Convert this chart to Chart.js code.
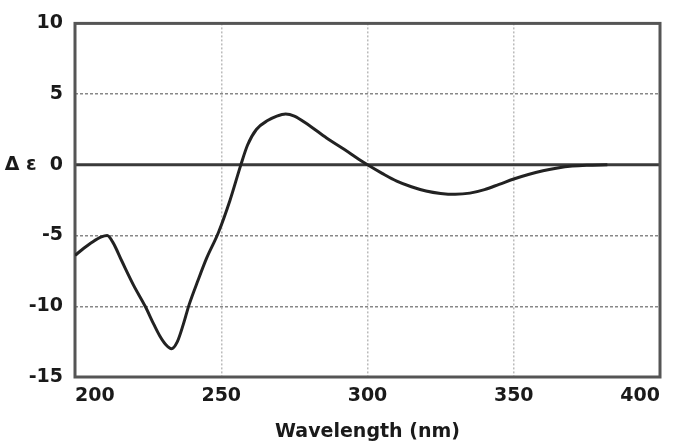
<!DOCTYPE html>
<html>
<head>
<meta charset="utf-8">
<script src="https://cdn.jsdelivr.net/npm/chart.js@4"></script>
<style>
  html, body { margin: 0; padding: 0; background: #fff; }
  #wrap { width: 677px; height: 447px; }
</style>
</head>
<body>
<div id="wrap"><canvas id="myChart" width="677" height="447"></canvas></div>
<script>
// wavelength (nm) and delta epsilon
const wavelength = [200, 203, 206, 209, 211, 213, 216, 220, 224, 227, 229, 231, 233, 235, 237, 239, 242, 245, 249, 253, 256.7, 259, 262, 266, 269, 272, 275, 280, 286, 292, 297, 300, 305, 310, 315, 320, 325, 330, 335, 340, 345, 350, 355, 360, 365, 370, 375, 382];
const deltaEps = [-6.4, -5.9, -5.45, -5.1, -5.0, -5.5, -6.8, -8.5, -10.0, -11.3, -12.1, -12.7, -13.0, -12.5, -11.3, -9.9, -8.2, -6.6, -4.8, -2.5, 0, 1.4, 2.5, 3.15, 3.45, 3.6, 3.45, 2.8, 1.9, 1.1, 0.4, 0, -0.6, -1.15, -1.55, -1.85, -2.02, -2.08, -2.0, -1.75, -1.38, -1.0, -0.68, -0.42, -0.22, -0.09, -0.03, 0];
const xTicks = [200, 250, 300, 350, 400];
const yTicks = [-15, -10, -5, 0, 5, 10];

const points = wavelength.map((w, i) => ({ x: w, y: deltaEps[i] }));

// frame + zero line
const framePlugin = {
    id: 'frame',
    beforeDatasetsDraw(chart) {
        const { ctx, chartArea: a, scales } = chart;
        const y0 = scales.y.getPixelForValue(0);
        ctx.save();
        ctx.strokeStyle = '#3a3a3a';
        ctx.lineWidth = 3;
        ctx.beginPath();
        ctx.moveTo(a.left, y0);
        ctx.lineTo(a.right, y0);
        ctx.stroke();
        ctx.strokeStyle = '#555';
        ctx.strokeRect(a.left, a.top, a.right - a.left, a.bottom - a.top);
        ctx.restore();
    }
};

const tickFont = { family: '"DejaVu Sans", sans-serif', size: 19, weight: 'bold' };

new Chart(document.getElementById('myChart'), {
    type: 'line',
    data: {
        datasets: [{
            data: points,
            borderColor: '#222',
            borderWidth: 3,
            pointRadius: 0,
            cubicInterpolationMode: 'monotone',
            fill: false
        }]
    },
    options: {
        responsive: false,
        animation: false,
        layout: { padding: { top: 10, right: 17, left: 0, bottom: 0 } },
        plugins: { legend: { display: false }, tooltip: { enabled: false } },
        scales: {
            x: {
                type: 'linear',
                min: 200,
                max: 400,
                afterBuildTicks: s => { s.ticks = xTicks.map(v => ({ value: v })); },
                afterFit: s => { s.height = 70; s.paddingLeft = 0; s.paddingRight = 0; },
                grid: {
                    color: c => (c.tick.value === 200 || c.tick.value === 400) ? 'rgba(0,0,0,0)' : '#bbb',
                    lineWidth: 1.5,
                    drawTicks: false
                },
                border: { display: false, dash: [2, 2] },
                ticks: { color: '#1a1a1a', font: tickFont, padding: 8, maxRotation: 0, align: 'inner' },
                title: {
                    display: true,
                    text: 'Wavelength (nm)',
                    color: '#1a1a1a',
                    font: tickFont,
                    padding: { top: 4 }
                }
            },
            y: {
                type: 'linear',
                min: -15,
                max: 10,
                afterBuildTicks: s => { s.ticks = yTicks.map(v => ({ value: v })); },
                afterFit: s => { s.width = 75; },
                grid: {
                    color: c => (c.tick.value === 10 || c.tick.value === -15 || c.tick.value === 0) ? 'rgba(0,0,0,0)' : '#888',
                    lineWidth: 1.5,
                    drawTicks: false
                },
                border: { display: false, dash: [3, 2] },
                ticks: {
                    color: '#1a1a1a',
                    font: tickFont,
                    padding: 12,
                    callback: v => v === 0 ? 'Δ ε  0' : v
                }
            }
        }
    },
    plugins: [framePlugin]
});
</script>
</body>
</html>
